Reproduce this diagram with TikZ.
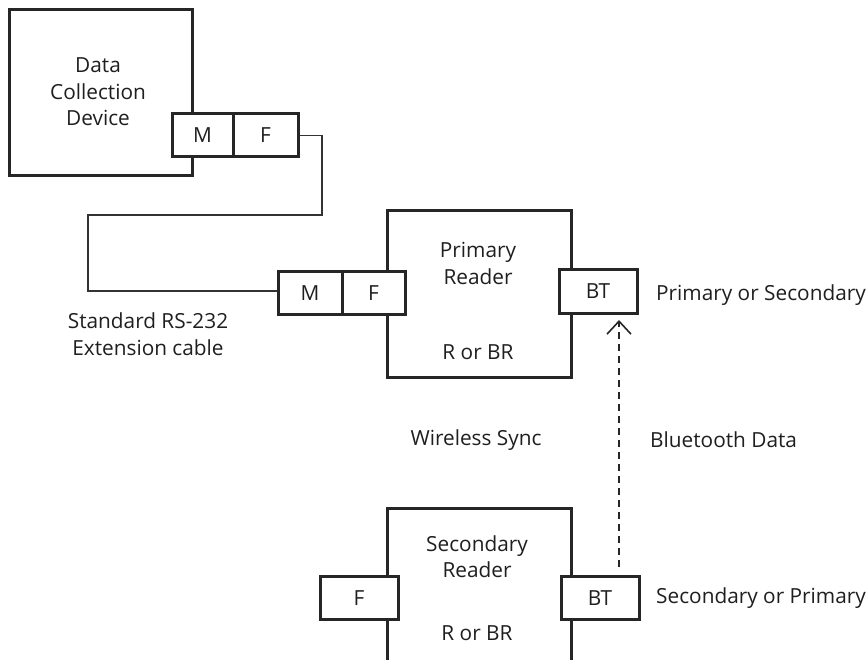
\documentclass[tikz,border=0pt]{standalone}
\usepackage{fontspec}
\setmainfont{Open Sans}
\usetikzlibrary{arrows.meta}
\begin{document}
\begin{tikzpicture}[x=1pt,y=-1pt,
  lbl/.style={font=\fontsize{20.8}{26.5}\selectfont, text=black!88, inner sep=0pt, align=center},
  bigbox/.style={draw=black!85, line width=3pt, fill=white, inner sep=0pt},
  port/.style={draw=black!85, line width=3pt, fill=white, inner sep=0pt, font=\fontsize{20.8}{24}\selectfont, text=black!88},
  cable/.style={draw=black!80, line width=1.3pt},
  wireless/.style={draw=black!85, line width=1.6pt, dash pattern=on 7pt off 5pt}
]
\useasboundingbox (0,0) rectangle (867,660);
\begin{scope}
\clip (0,0) rectangle (867,660);
% boxes
\node[bigbox, minimum width=183, minimum height=166] (dcd) at (101,93) {};
\node[bigbox, minimum width=184, minimum height=166] (prim) at (479,294) {};
\node[bigbox, minimum width=184, minimum height=200] (sec) at (479,608) {};
% ports
\node[port, minimum width=61, minimum height=43] (dM) at (202.5,135.5) {M};
\node[port, minimum width=65, minimum height=43] (dF) at (265.5,135.5) {F};
\node[port, minimum width=64, minimum height=42] (pM) at (310,293) {M};
\node[port, minimum width=63, minimum height=42] (pF) at (373.5,293) {F};
\node[port, minimum width=78, minimum height=43] (pBT) at (598,291.5) {BT};
\node[port, minimum width=78, minimum height=43] (sF) at (359,598) {F};
\node[port, minimum width=78, minimum height=43] (sBT) at (600,598) {BT};
\end{scope}
% texts
\node[lbl] (dcdt) at (98,92) {Data\\Collection\\Device};
\node[lbl] (primt) at (478,263.5) {Primary\\Reader};
\node[lbl] (primr) at (478,352) {R or BR};
\node[lbl] (sect) at (477,556.5) {Secondary\\Reader};
\node[lbl] (secr) at (477,633) {R or BR};
\node[lbl] (cablet) at (148,334) {Standard RS-232\\Extension cable};
\node[lbl, anchor=west] (pos1) at (656,295) {Primary or Secondary};
\node[lbl] (ws) at (476,440) {Wireless Sync};
\node[lbl, anchor=west] (btd) at (650,440) {Bluetooth Data};
\node[lbl, anchor=west] (pos2) at (656,598) {Secondary or Primary};
% cable
\coordinate (c1) at (322,135.5);
\coordinate (c2) at (322,215);
\coordinate (c3) at (88,215);
\coordinate (c4) at (88,291);
\draw[cable] (dF.east) -- (c1) -- (c2) -- (c3) -- (c4) -- (pM.west |- c4);
% bluetooth arrow
\coordinate (a1) at (619,567);
\coordinate (a2) at (619,320);
\draw[wireless, -{Straight Barb[length=13pt,width=24pt,line width=1.6pt]}] (a1) -- (a2);
\end{tikzpicture}
\end{document}
